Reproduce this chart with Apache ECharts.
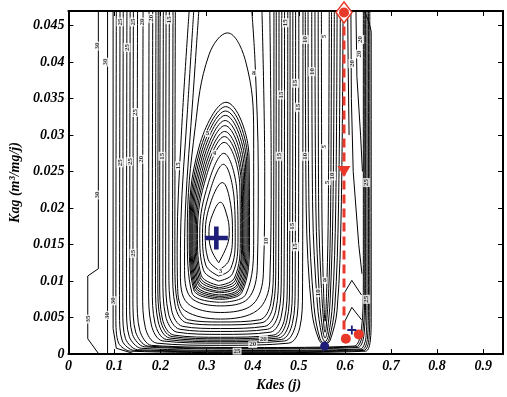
<!DOCTYPE html>
<html>
<head>
<meta charset="utf-8">
<script src="https://cdn.jsdelivr.net/npm/echarts@6/dist/echarts.min.js"></script>
<style>
  html, body { margin: 0; padding: 0; background: #fff; }
  #chart { width: 507px; height: 397px; }
</style>
</head>
<body>
<div id="chart"></div>
<script>
// axis ticks
const xTicks = [0, 0.1, 0.2, 0.3, 0.4, 0.5, 0.6, 0.7, 0.8, 0.9]
const yTicks = [0, 0.005, 0.01, 0.015, 0.02, 0.025, 0.03, 0.035, 0.04, 0.045]

// closed rings around the minimum (Kdes, Kag)
const rings = [
  [[0.326,0.0125],[0.345,0.015],[0.349,0.0168],[0.343,0.0192],[0.33,0.0208],[0.312,0.019],[0.305,0.0168],[0.309,0.0145],[0.326,0.0125]],
  [[0.326,0.0115],[0.348,0.0128],[0.356,0.0165],[0.352,0.0205],[0.334,0.0235],[0.31,0.021],[0.297,0.0165],[0.303,0.013],[0.326,0.0115]],
  [[0.326,0.0107],[0.352,0.0117],[0.362,0.016],[0.36,0.021],[0.336,0.026],[0.308,0.0225],[0.291,0.0165],[0.298,0.0122],[0.326,0.0107]],
  [[0.326,0.01],[0.356,0.011],[0.368,0.016],[0.366,0.022],[0.337,0.0275],[0.304,0.0235],[0.285,0.0165],[0.293,0.0115],[0.326,0.01]],
  [[0.326,0.0094],[0.36,0.0104],[0.373,0.016],[0.372,0.023],[0.338,0.029],[0.3,0.0245],[0.28,0.0165],[0.288,0.0108],[0.326,0.0094]],
  [[0.326,0.0091],[0.362,0.0101],[0.376,0.016],[0.375,0.0235],[0.3385,0.0298],[0.298,0.025],[0.2775,0.0165],[0.286,0.0105],[0.326,0.0091]],
  [[0.327,0.0089],[0.364,0.0098],[0.378,0.016],[0.377,0.024],[0.339,0.0305],[0.296,0.0255],[0.275,0.0165],[0.284,0.0102],[0.327,0.0089]],
  [[0.327,0.0086],[0.366,0.0095],[0.3805,0.016],[0.3795,0.0245],[0.3395,0.0313],[0.294,0.026],[0.2725,0.0165],[0.282,0.0099],[0.327,0.0086]],
  [[0.327,0.0084],[0.368,0.0093],[0.383,0.016],[0.382,0.025],[0.34,0.032],[0.292,0.0265],[0.27,0.0165],[0.28,0.0097],[0.327,0.0084]],
  [[0.327,0.0081],[0.37,0.009],[0.3855,0.016],[0.3845,0.0255],[0.3405,0.0327],[0.29,0.027],[0.268,0.0165],[0.278,0.0094],[0.327,0.0081]],
  [[0.327,0.0079],[0.372,0.0088],[0.388,0.016],[0.387,0.026],[0.341,0.0333],[0.288,0.0275],[0.266,0.0165],[0.276,0.0092],[0.327,0.0079]],
  [[0.328,0.0077],[0.374,0.0086],[0.3905,0.016],[0.3895,0.0265],[0.3415,0.0339],[0.286,0.028],[0.264,0.0165],[0.274,0.009],[0.328,0.0077]],
  [[0.328,0.0075],[0.376,0.0084],[0.393,0.016],[0.392,0.027],[0.342,0.0345],[0.284,0.0285],[0.262,0.0165],[0.272,0.0088],[0.328,0.0075]],
  [[0.33,0.0071],[0.385,0.0082],[0.402,0.016],[0.402,0.03],[0.385,0.04],[0.345,0.044],[0.305,0.041],[0.275,0.031],[0.258,0.0165],[0.268,0.0084],[0.33,0.0071]]
]

// open U-shaped contours of the main valley
const valleyCurves = [
  [[0.283,0.047],[0.27,0.035],[0.254,0.02],[0.252,0.012],[0.265,0.0078],[0.33,0.0066],[0.39,0.0076],[0.41,0.012],[0.412,0.025],[0.405,0.04],[0.398,0.047]],
  [[0.272,0.047],[0.258,0.033],[0.244,0.018],[0.243,0.011],[0.258,0.007],[0.33,0.0057],[0.4,0.0068],[0.423,0.011],[0.426,0.025],[0.42,0.047]],
  [[0.262,0.047],[0.245,0.03],[0.236,0.015],[0.237,0.009],[0.252,0.006],[0.33,0.0048],[0.41,0.006],[0.437,0.01],[0.44,0.025],[0.437,0.047]],
  [[0.232,0.047],[0.231,0.0125],[0.237,0.0069],[0.261,0.0047],[0.33,0.0044],[0.415,0.0047],[0.439,0.0069],[0.445,0.0125],[0.446,0.047]],
  [[0.227,0.047],[0.226,0.012],[0.232,0.0065],[0.256,0.0043],[0.33,0.004],[0.42,0.0043],[0.444,0.0065],[0.45,0.012],[0.451,0.047]],
  [[0.219,0.047],[0.218,0.0115],[0.224,0.006],[0.248,0.0038],[0.33,0.0035],[0.426,0.0038],[0.45,0.006],[0.456,0.0115],[0.457,0.047]],
  [[0.212,0.047],[0.211,0.011],[0.217,0.0056],[0.242,0.0034],[0.33,0.0031],[0.432,0.0034],[0.456,0.0056],[0.462,0.011],[0.463,0.047]],
  [[0.206,0.047],[0.205,0.0105],[0.211,0.0052],[0.236,0.003],[0.33,0.0027],[0.438,0.003],[0.462,0.0052],[0.468,0.0105],[0.469,0.047]],
  [[0.199,0.047],[0.198,0.01],[0.204,0.0048],[0.229,0.0026],[0.33,0.0023],[0.445,0.0026],[0.469,0.0048],[0.475,0.01],[0.476,0.047]],
  [[0.195,0.047],[0.194,0.0097],[0.2,0.0046],[0.225,0.0024],[0.33,0.0021],[0.45,0.0024],[0.474,0.0046],[0.48,0.0097],[0.481,0.047]],
  [[0.19,0.047],[0.189,0.0095],[0.195,0.0044],[0.22,0.0022],[0.33,0.0019],[0.456,0.0022],[0.48,0.0044],[0.486,0.0095],[0.487,0.047]],
  [[0.183,0.047],[0.182,0.0092],[0.188,0.0042],[0.213,0.002],[0.33,0.0017],[0.462,0.002],[0.486,0.0042],[0.492,0.0092],[0.493,0.047]],
  [[0.175,0.047],[0.174,0.009],[0.18,0.004],[0.205,0.0018],[0.33,0.0015],[0.469,0.0018],[0.493,0.004],[0.499,0.009],[0.5,0.047]],
  [[0.162,0.047],[0.161,0.0085],[0.167,0.0036],[0.192,0.0015],[0.33,0.0012],[0.478,0.0015],[0.502,0.0036],[0.508,0.0085],[0.509,0.047]]
]

// second valley (minimum near Kdes 0.556)
const secondValley = [
  [[0.549,0.047],[0.55,0.02],[0.553,0.01],[0.557,0.0045],[0.561,0.01],[0.564,0.02],[0.566,0.047]],
  [[0.542,0.047],[0.543,0.02],[0.549,0.009],[0.555,0.0035],[0.557,0.003],[0.559,0.0035],[0.565,0.009],[0.569,0.02],[0.571,0.047]],
  [[0.535,0.047],[0.537,0.02],[0.545,0.0075],[0.552,0.0032],[0.557,0.0022],[0.562,0.0032],[0.568,0.0075],[0.574,0.02],[0.577,0.047]],
  [[0.528,0.047],[0.53,0.02],[0.54,0.007],[0.55,0.0025],[0.557,0.0017],[0.564,0.0025],[0.573,0.007],[0.58,0.02],[0.583,0.047]],
  [[0.52,0.047],[0.522,0.02],[0.533,0.0065],[0.546,0.0021],[0.557,0.0014],[0.566,0.0021],[0.578,0.0065],[0.586,0.02],[0.59,0.047]],
  [[0.514,0.047],[0.516,0.02],[0.528,0.006],[0.544,0.0019],[0.557,0.0013],[0.568,0.0019],[0.583,0.006],[0.592,0.02],[0.596,0.047]]
]

// outer contours wrapping both valleys
const outerCurves = [
  [[0.15,0.047],[0.149,0.008],[0.155,0.0032],[0.18,0.0012],[0.4,0.0009],[0.62,0.0011],[0.636,0.0035],[0.64,0.01],[0.64,0.047]],
  [[0.141,0.047],[0.14,0.0075],[0.146,0.003],[0.172,0.0011],[0.4,0.0008],[0.624,0.001],[0.639,0.0032],[0.643,0.0095],[0.643,0.047]],
  [[0.134,0.047],[0.133,0.007],[0.139,0.0027],[0.165,0.001],[0.4,0.0007],[0.628,0.0009],[0.642,0.003],[0.645,0.009],[0.645,0.047]],
  [[0.127,0.047],[0.126,0.0065],[0.132,0.0024],[0.158,0.0008],[0.4,0.0005],[0.633,0.0007],[0.646,0.0025],[0.648,0.008],[0.648,0.047]],
  [[0.119,0.047],[0.118,0.006],[0.124,0.0021],[0.15,0.0006],[0.4,0.0004],[0.637,0.0006],[0.649,0.0022],[0.651,0.007],[0.651,0.047]],
  [[0.112,0.047],[0.111,0.0055],[0.117,0.0018],[0.143,0.0005],[0.4,0.0003],[0.641,0.0005],[0.652,0.002],[0.654,0.006],[0.654,0.047]],
  [[0.104,0.047],[0.103,0.005],[0.109,0.0015],[0.135,0.0004],[0.4,0.0002],[0.645,0.0004],[0.655,0.0018],[0.657,0.005],[0.657,0.044],[0.642,0.047]]
]

// straight segments: left edge, right side ridges
const edgeLines = [
  [[0.065,0.047],[0.065,0.0117],[0.042,0.0107],[0.042,0.0021],[0.065,0.0001]],
  [[0.085,0.047],[0.085,0.0]],
  [[0.097,0.047],[0.097,0.0035],[0.104,0.0008],[0.14,0.0001]],
  [[0.606,0.047],[0.607,0.04],[0.609,0.03]],
  [[0.613,0.047],[0.614,0.035],[0.618,0.025],[0.63,0.015],[0.637,0.011]],
  [[0.624,0.047],[0.626,0.038],[0.634,0.03],[0.638,0.025]],
  [[0.599,0.0084],[0.615,0.0101],[0.636,0.0081]],
  [[0.599,0.0044],[0.615,0.0064],[0.636,0.0047]]
]

// contour level labels [Kdes, Kag, text]
const verticalLabels = [
  [0.063,0.0422,'30'],[0.080,0.040,'30'],[0.112,0.0455,'25'],[0.140,0.0455,'25'],[0.161,0.0455,'20'],
  [0.180,0.046,'20'],[0.127,0.042,'25'],[0.218,0.0458,'15'],[0.144,0.0331,'25'],[0.112,0.0262,'25'],
  [0.133,0.0264,'25'],[0.159,0.0267,'20'],[0.203,0.0271,'15'],[0.239,0.0258,'15'],[0.063,0.0218,'30'],
  [0.042,0.0048,'35'],[0.085,0.0053,'30'],[0.14,0.0138,'25'],[0.097,0.0073,'30'],[0.493,0.0371,'15'],
  [0.499,0.0338,'15'],[0.528,0.0387,'10'],[0.461,0.0355,'15'],[0.457,0.0271,'15'],[0.514,0.0271,'10'],
  [0.556,0.0284,'5'],[0.573,0.0244,'10'],[0.562,0.0235,'5'],[0.647,0.0235,'25'],[0.615,0.0398,'20'],
  [0.514,0.0431,'10'],[0.556,0.0435,'5'],[0.634,0.0431,'20'],[0.63,0.0411,'20'],[0.471,0.0454,'15'],
  [0.486,0.0175,'15'],[0.493,0.0147,'15'],[0.429,0.0155,'10'],[0.541,0.0084,'10'],[0.647,0.0075,'25']
]
const horizontalLabels = [
  [0.302,0.0302,'5'],[0.317,0.0275,'4'],[0.33,0.0113,'3'],[0.40,0.0013,'20'],[0.366,0.0004,'25'],
  [0.423,0.0021,'20'],[0.556,0.0101,'8'],[0.402,0.0385,'8']
]

// optimisation path and markers
const pathLine = [[0.598,0.0468],[0.598,0.0022]]
const startPoint = [[0.598,0.0468]]
const midPoint = [[0.598,0.025]]
const endPoints = [[0.602,0.0021],[0.63,0.0027]]
const smallCross = [[0.615,0.0033]]
const bigCross = [[0.321,0.0159]]
const valleyDot = [[0.556,0.0011]]

const red = '#e8382a'
const navy = '#1e1e78'
const plus = 'path://M4,0L6,0L6,4L10,4L10,6L6,6L6,10L4,10L4,6L0,6L0,4L4,4Z'

const labelFont = {
  color: '#000',
  fontFamily: 'Liberation Serif',
  fontStyle: 'italic',
  fontWeight: 'bold',
  fontSize: 14
}

const contour = (pts, smooth) => ({
  type: 'line',
  data: pts,
  smooth: smooth,
  symbol: 'none',
  silent: true,
  lineStyle: { color: '#000', width: 1 }
})

const levelLabels = (pts, rotate) => ({
  type: 'scatter',
  data: pts,
  symbolSize: 0,
  silent: true,
  z: 4,
  label: {
    show: true,
    position: 'inside',
    rotate: rotate,
    formatter: p => p.data[2],
    color: '#000',
    fontFamily: 'Liberation Serif',
    fontWeight: 'bold',
    fontSize: 7,
    backgroundColor: '#fff',
    padding: [0, 1]
  }
})

let series = []
rings.forEach(r => series.push(contour(r, 0.4)))
valleyCurves.forEach(c => series.push(contour(c, 0.35)))
secondValley.forEach(c => series.push(contour(c, 0.35)))
outerCurves.forEach(c => series.push(contour(c, 0.3)))
edgeLines.forEach(c => series.push(contour(c, false)))
series.push(levelLabels(verticalLabels, 90), levelLabels(horizontalLabels, 0))

series.push({
  type: 'line',
  data: pathLine,
  symbol: 'none',
  lineStyle: { color: red, width: 3, type: [9, 5] },
  z: 5
}, {
  type: 'scatter',
  data: startPoint,
  symbol: 'diamond',
  symbolSize: [16, 21],
  clip: false,
  itemStyle: { color: '#fff', borderColor: red, borderWidth: 1.5, opacity: 1 },
  z: 6
}, {
  type: 'scatter',
  data: startPoint,
  symbol: 'circle',
  symbolSize: 10,
  clip: false,
  itemStyle: { color: red, opacity: 1 },
  z: 7
}, {
  type: 'scatter',
  data: midPoint,
  symbol: 'triangle',
  symbolRotate: 180,
  symbolSize: [13, 11],
  itemStyle: { color: red, opacity: 1 },
  z: 6
}, {
  type: 'scatter',
  data: endPoints,
  symbol: 'circle',
  symbolSize: 10,
  itemStyle: { color: red, opacity: 1 },
  z: 6
}, {
  type: 'scatter',
  data: smallCross,
  symbol: plus,
  symbolSize: 9,
  itemStyle: { color: navy, opacity: 1 },
  z: 6
}, {
  type: 'scatter',
  data: bigCross,
  symbol: plus,
  symbolSize: 23,
  itemStyle: { color: navy, opacity: 1 },
  z: 6
}, {
  type: 'scatter',
  data: valleyDot,
  symbol: 'circle',
  symbolSize: 9,
  itemStyle: { color: navy, opacity: 1 },
  z: 6
})

const chart = echarts.init(document.getElementById('chart'), null, { renderer: 'canvas' })
const baseX = {
  type: 'value',
  min: 0,
  max: 0.943,
  interval: 0.1,
  splitLine: { show: false },
  axisLine: { onZero: false, lineStyle: { color: '#000', width: 2 } },
  axisTick: { inside: true, length: 5, lineStyle: { color: '#000' } }
}
const baseY = {
  type: 'value',
  min: 0,
  max: 0.047,
  interval: 0.005,
  splitLine: { show: false },
  axisLine: { onZero: false, lineStyle: { color: '#000', width: 2 } },
  axisTick: { inside: true, length: 5, lineStyle: { color: '#000' } }
}

chart.setOption({
  animation: false,
  grid: { left: 57, right: 4, top: 11, bottom: 34 },
  xAxis: [
    Object.assign({}, baseX, {
      position: 'bottom',
      name: 'Kdes (j)',
      nameLocation: 'middle',
      nameGap: 22,
      nameTextStyle: Object.assign({}, labelFont, { fontSize: 14, padding: [0, 14, 0, 0] }),
      axisLabel: Object.assign({}, labelFont, { margin: 5, showMaxLabel: false,
        formatter: v => xTicks.includes(Math.round(v * 10) / 10) ? String(Math.round(v * 10) / 10) : '' })
    }),
    Object.assign({}, baseX, { position: 'top', axisLabel: { show: false } })
  ],
  yAxis: [
    Object.assign({}, baseY, {
      position: 'left',
      name: 'Kag (m³/mg/j)',
      nameLocation: 'middle',
      nameGap: 44,
      nameTextStyle: Object.assign({}, labelFont, { fontSize: 14 }),
      axisLabel: Object.assign({}, labelFont, { margin: 4, showMaxLabel: false,
        formatter: v => {
          const r = Math.round(v * 1000) / 1000
          return yTicks.includes(r) ? String(r) : ''
        } })
    }),
    Object.assign({}, baseY, { position: 'right', axisLabel: { show: false } })
  ],
  series: series
})
</script>
</body>
</html>
